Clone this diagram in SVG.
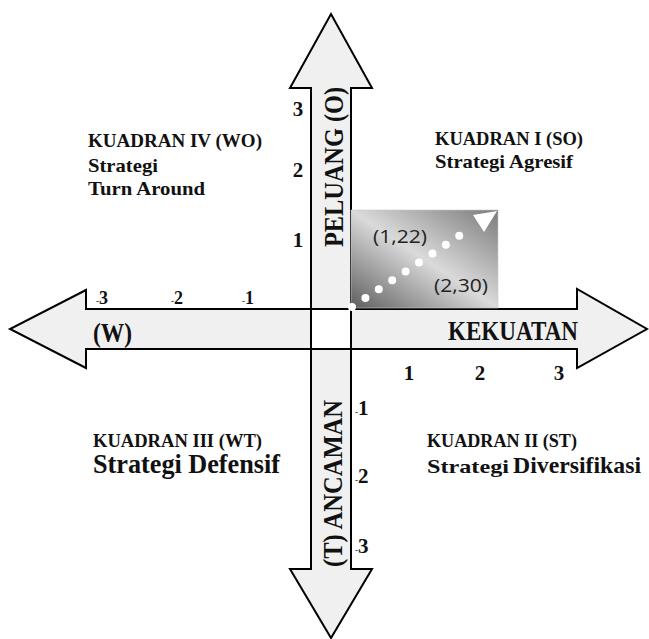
<svg xmlns="http://www.w3.org/2000/svg" width="649" height="639" viewBox="0 0 649 639">
<style>
.arr{fill:#f0f0f0;stroke:#000;stroke-width:2;stroke-linejoin:miter}
.sf{font-family:"Liberation Serif","DejaVu Serif",serif;font-weight:bold;fill:#111}
.tk{font-size:21px}
.tks{font-size:18px}
.q{font-size:19px}
.big{font-size:27px}
.ss{font-family:"Open Sans","Noto Sans","Liberation Sans",sans-serif;font-size:19px;fill:#222}
</style>
<defs>
<linearGradient id="g" x1="0" y1="1" x2="1" y2="0">
<stop offset="0" stop-color="#5e5e5e"/>
<stop offset="0.5" stop-color="#dadada"/>
<stop offset="1" stop-color="#7a7a7a"/>
</linearGradient>
</defs>
<rect width="649" height="639" fill="#fff"/>
<g id="connectors">
<polygon id="arrow-up" class="arr" points="311,309 311,88 290,88 331,14 372,88 351,88 351,309"/>
<polygon id="arrow-down" class="arr" points="311,349 311,569 290,569 331,638 372,569 351,569 351,349"/>
<polygon id="arrow-left" class="arr" points="311,309 86,309 86,290 10,329 86,368 86,349 311,349"/>
<polygon id="arrow-right" class="arr" points="351,309 577,309 577,289 647,329 577,368 577,349 351,349"/>
<rect x="311" y="309" width="40" height="40" fill="#fff" stroke="#000" stroke-width="2"/>
</g>
<g id="position-box">
<rect x="351" y="210" width="147" height="98" fill="url(#g)" stroke="#c8c8c8" stroke-width="0.6"/>
<line x1="352" y1="307" x2="472.6" y2="226.9" stroke="#fff" stroke-width="8" stroke-linecap="round" stroke-dasharray="0 16.09"/>
<polygon points="473,215 497,211 484,232" fill="#fff"/>
<text class="ss" x="373" y="243" textLength="54" lengthAdjust="spacingAndGlyphs">(1,22)</text>
<text class="ss" x="434" y="292" textLength="54" lengthAdjust="spacingAndGlyphs">(2,30)</text>
</g>
<g id="axis-labels">
<text class="sf" transform="translate(343,167) rotate(-90)" text-anchor="middle" font-size="28" textLength="160" lengthAdjust="spacingAndGlyphs">PELUANG (O)</text>
<text class="sf" transform="translate(342,483.5) rotate(-90)" text-anchor="middle" font-size="28" textLength="167" lengthAdjust="spacingAndGlyphs">(T) ANCAMAN</text>
<text class="sf" x="448" y="340" font-size="27" textLength="130" lengthAdjust="spacingAndGlyphs">KEKUATAN</text>
<text class="sf" x="93" y="342" font-size="27" textLength="39" lengthAdjust="spacingAndGlyphs">(W)</text>
</g>
<g id="ticks">
<text class="sf tk" x="298" y="116" text-anchor="middle">3</text>
<text class="sf tk" x="298" y="177" text-anchor="middle">2</text>
<text class="sf tk" x="298" y="247" text-anchor="middle">1</text>
<text class="sf tk" x="409" y="380" text-anchor="middle">1</text>
<text class="sf tk" x="480" y="380" text-anchor="middle">2</text>
<text class="sf tk" x="559" y="380" text-anchor="middle">3</text>
<text class="sf tks" x="96" y="304"><tspan font-size="9">-</tspan>3</text>
<text class="sf tks" x="171" y="304"><tspan font-size="9">-</tspan>2</text>
<text class="sf tks" x="242" y="304"><tspan font-size="9">-</tspan>1</text>
<text class="sf tk" x="355" y="415"><tspan font-size="9">-</tspan>1</text>
<text class="sf tk" x="355" y="483"><tspan font-size="9">-</tspan>2</text>
<text class="sf tk" x="355" y="553"><tspan font-size="9">-</tspan>3</text>
</g>
<g id="quadrant-4">
<text class="sf q" x="88" y="147" textLength="174" lengthAdjust="spacingAndGlyphs">KUADRAN IV (WO)</text>
<text class="sf q" x="88" y="172" textLength="70" lengthAdjust="spacingAndGlyphs">Strategi</text>
<text class="sf q" x="88" y="195" textLength="117" lengthAdjust="spacingAndGlyphs">Turn Around</text>
</g>
<g id="quadrant-1">
<text class="sf q" x="435" y="145" textLength="148" lengthAdjust="spacingAndGlyphs">KUADRAN I (SO)</text>
<text class="sf q" x="435" y="168" textLength="138" lengthAdjust="spacingAndGlyphs">Strategi Agresif</text>
</g>
<g id="quadrant-3">
<text class="sf q" x="93" y="447" textLength="169" lengthAdjust="spacingAndGlyphs">KUADRAN III (WT)</text>
<text class="sf big" x="93" y="473" textLength="187" lengthAdjust="spacingAndGlyphs">Strategi Defensif</text>
</g>
<g id="quadrant-2">
<text class="sf q" x="427" y="447" textLength="150" lengthAdjust="spacingAndGlyphs">KUADRAN II (ST)</text>
<text class="sf" x="427" y="473" font-size="19" textLength="82" lengthAdjust="spacingAndGlyphs">Strategi</text>
<text class="sf" x="513" y="473" font-size="24" textLength="128" lengthAdjust="spacingAndGlyphs">Diversifikasi</text>
</g>
</svg>
